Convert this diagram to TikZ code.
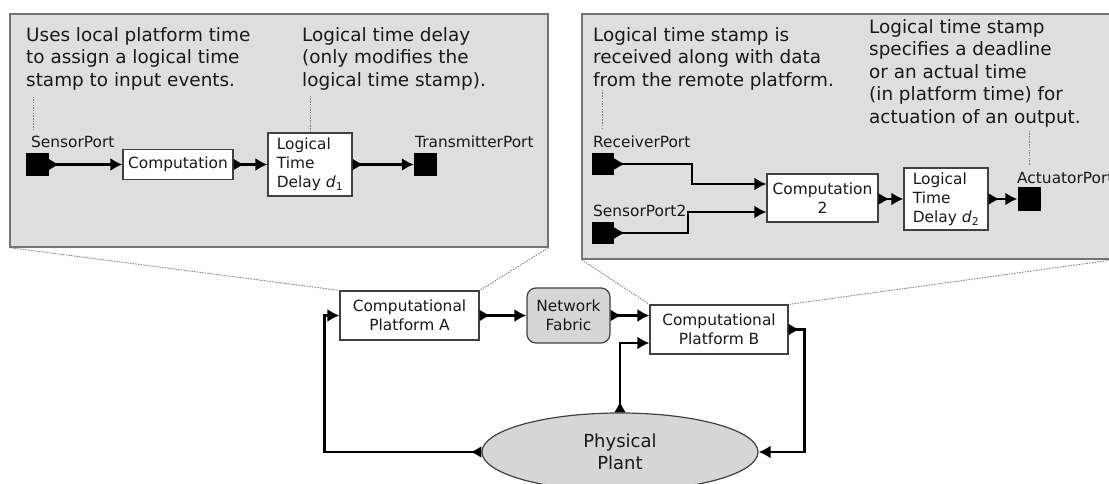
\documentclass[tikz,border=0pt]{standalone}
\usepackage{fontspec}
\setmainfont{DejaVu Sans}
\usetikzlibrary{arrows.meta, shapes.geometric}

\newcommand{\notesize}{\fontsize{18.4}{22.5}\selectfont}
\newcommand{\boxsize}{\fontsize{15.4}{19}\selectfont}

\begin{document}
\begin{tikzpicture}[x=1pt, y=-1pt,
    zoom/.style={draw=black!55, line width=1.2pt, fill=black!13, inner sep=0pt},
    note/.style={anchor=north west, align=left, inner sep=0pt, font=\notesize, text=black!90},
    portlabel/.style={anchor=base west, inner sep=0pt, font=\boxsize, text=black!90},
    port/.style={fill=black, minimum size=23pt, inner sep=0pt},
    actor/.style={draw=black!75, line width=1.2pt, fill=white, font=\boxsize, text=black!90, inner sep=2pt},
    flow/.style={line width=2.3pt, {Latex[reversed, length=11pt, width=12pt]}-{Latex[length=12pt, width=13pt]}},
    leader/.style={draw=black!50, line width=0.9pt, dash pattern=on 1.5pt off 1.2pt}]

\path[use as bounding box] (0, 0) rectangle (1109, 484);
\clip (0, 0) rectangle (1109, 484);

\node (zoomA) at (279, 130.5) [zoom, minimum width=538pt, minimum height=233pt] {};
\node (zoomB) at (848, 136.5) [zoom, minimum width=532pt, minimum height=245pt] {};

\node (noteSensor) at (26, 27)  [note] {Uses local platform time\\to assign a logical time\\stamp to input events.};
\node (noteDelay)  at (302, 27) [note] {Logical time delay\\(only modifies the\\logical time stamp).};
\node (noteRecv)   at (593, 27) [note] {Logical time stamp is\\received along with data\\from the remote platform.};
\node (noteAct)    at (869, 19) [note] {Logical time stamp\\specifies a deadline\\or an actual time\\(in platform time) for\\actuation of an output.};

\node (lblSensor) at (31, 148)   [portlabel] {SensorPort};
\node (lblTx)     at (415, 148)  [portlabel] {TransmitterPort};
\node (lblRx)     at (593, 148)  [portlabel] {ReceiverPort};
\node (lblS2)     at (593, 216)  [portlabel] {SensorPort2};
\node (lblAct)    at (1017, 183) [portlabel] {ActuatorPort};

\node (sensorPort) at (37, 164.5)  [port] {};
\node (txPort)     at (425.5, 164.5) [port] {};
\node (rxPort)     at (603, 164)   [port, minimum size=22pt] {};
\node (s2Port)     at (603, 233)   [port, minimum size=22pt] {};
\node (actPort)    at (1029, 199)  [port] {};

\node (comp)   at (178, 164.5) [actor, minimum width=110pt, minimum height=30pt] {Computation};
\node (delay1) at (310, 164.5) [actor, minimum width=84pt, minimum height=63pt, align=left] {Logical\\Time\\Delay \textit{d}\textsubscript{1}};
\node (comp2)  at (822.5, 198) [actor, minimum width=111pt, minimum height=48pt, align=center] {Computation\\2};
\node (delay2) at (946, 199)   [actor, minimum width=84pt, minimum height=62pt, align=left] {Logical\\Time\\Delay \textit{d}\textsubscript{2}};

\node (platA)  at (409.5, 315.5) [actor, minimum width=139pt, minimum height=49pt, align=center] {Computational\\Platform A};
\node (fabric) at (568.5, 315.5) [actor, fill=black!16, rounded corners=9pt, minimum width=83pt, minimum height=55pt, align=center] {Network\\Fabric};
\node (platB)  at (719, 329.5)   [actor, minimum width=138pt, minimum height=49pt, align=center] {Computational\\Platform B};
\node (plant)  at (620, 452)     [actor, ellipse, fill=black!16, minimum width=276pt, minimum height=78pt, align=center, font=\fontsize{18}{21.5}\selectfont] {Physical\\Plant};

\draw[leader] (lblSensor.north west) ++(2, -6) -- ++(0, -33);
\draw[leader] (delay1.north) -- ++(0, -36);
\draw[leader] (lblRx.north west) ++(9, -7) -- ++(0, -40);
\draw[leader] (lblAct.north west) ++(12, -7) -- ++(0, -35);

\draw[leader] (zoomA.south west) -- (platA.north west);
\draw[leader] (zoomA.south east) -- (platA.north east);
\draw[leader] (zoomB.south west) -- (platB.north west);
\draw[leader] (zoomB.south east) -- (platB.north east);

\draw[flow] (sensorPort.east) -- (comp.west);
\draw[flow] (comp.east) -- (delay1.west);
\draw[flow] (delay1.east) -- (txPort.west);

\draw[flow] (rxPort.east) -- ++(78, 0) |- ([yshift=14pt]comp2.west);
\draw[flow] (s2Port.east) -- ++(74, 0) |- ([yshift=-14pt]comp2.west);
\draw[flow] (comp2.east |- delay2.west) -- (delay2.west);
\draw[flow] (delay2.east) -- (actPort.west);

\draw[flow] (platA.east) -- (fabric.west);
\draw[flow] (fabric.east) -- (fabric.east -| platB.west);
\draw[flow] (plant.north) |- ([yshift=-13.5pt]platB.west);
\draw[flow] (platB.east) -- ++(16, 0) |- (plant.east);
\draw[flow] (plant.west) -- ++(-157, 0) |- (platA.west);

\end{tikzpicture}
\end{document}
